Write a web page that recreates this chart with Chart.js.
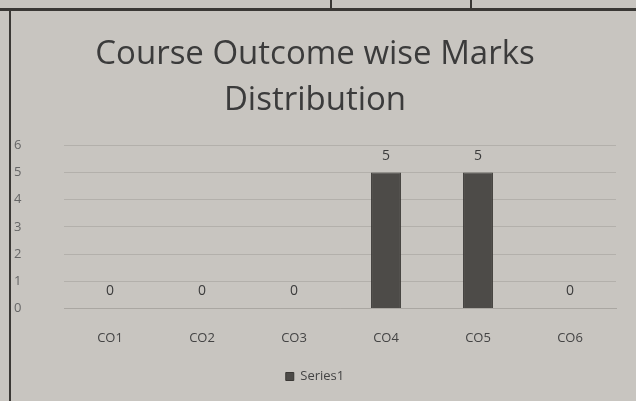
<!DOCTYPE html>
<html>
<head>
<meta charset="utf-8">
<script src="https://cdn.jsdelivr.net/npm/chart.js@4"></script>
<style>
  html, body { margin: 0; padding: 0; }
  body { width: 636px; height: 401px; background: #c8c5c0; position: relative; overflow: hidden; }
  #wrap { position: absolute; left: 0; top: 0; width: 636px; height: 401px; }
  .rule { position: absolute; background: #3a3835; }
</style>
</head>
<body>
<!-- page edges from the photographed sheet -->
<div class="rule" style="left:0;top:8px;width:636px;height:3px;"></div>
<div class="rule" style="left:9px;top:8px;width:2px;height:393px;"></div>
<div class="rule" style="left:330px;top:0;width:2px;height:10px;"></div>
<div class="rule" style="left:470px;top:0;width:2px;height:10px;"></div>
<div id="wrap"><canvas id="chart" width="636" height="401"></canvas></div>
<script>
// Chart data
const categories = ['CO1', 'CO2', 'CO3', 'CO4', 'CO5', 'CO6'];
const marks = [0, 0, 0, 5, 5, 0];
const yTicks = [0, 1, 2, 3, 4, 5, 6];

// Draws the value above each bar (like Excel data labels)
const valueLabels = {
    id: 'valueLabels',
    afterDatasetsDraw(chart) {
        const ctx = chart.ctx;
        const meta = chart.getDatasetMeta(0);
        ctx.save();
        ctx.font = '14px "Open Sans", sans-serif';
        ctx.fillStyle = '#3c3c3c';
        ctx.textAlign = 'center';
        ctx.textBaseline = 'bottom';
        meta.data.forEach((bar, i) => {
            ctx.fillText(String(marks[i]), bar.x, bar.y - 10);
        });
        ctx.restore();
    }
};

new Chart(document.getElementById('chart'), {
    type: 'bar',
    data: {
        labels: categories,
        datasets: [{
            label: 'Series1',
            data: marks,
            backgroundColor: '#4d4b48',
            borderColor: '#3a3835',
            borderWidth: 1,
            barPercentage: 0.65,
            categoryPercentage: 0.5
        }]
    },
    options: {
        responsive: false,
        animation: false,
        layout: { padding: { top: 31, left: 14, right: 20, bottom: 8 } },
        plugins: {
            title: {
                display: true,
                text: ['Course Outcome wise Marks', 'Distribution'],
                color: '#3b3b3b',
                font: { family: '"Open Sans", sans-serif', size: 33, weight: 'normal', lineHeight: 1.4 },
                padding: { top: 0, bottom: 22 }
            },
            legend: {
                position: 'bottom',
                labels: {
                    boxWidth: 8,
                    boxHeight: 8,
                    color: '#444',
                    font: { family: '"Open Sans", sans-serif', size: 13 }
                }
            },
            tooltip: { enabled: false }
        },
        scales: {
            x: {
                grid: { display: false },
                border: { display: true, color: '#aaa7a2' },
                ticks: {
                    color: '#444',
                    padding: 14,
                    font: { family: '"Open Sans", sans-serif', size: 13 }
                }
            },
            y: {
                min: 0,
                max: 6,
                afterBuildTicks(axis) {
                    axis.ticks = yTicks.map(v => ({ value: v }));
                },
                afterFit(axis) {
                    axis.width = 50;
                },
                grid: { color: '#b3b0ab', drawTicks: false },
                border: { display: false },
                ticks: {
                    color: '#666',
                    crossAlign: 'far',
                    padding: 10,
                    font: { family: '"Open Sans", sans-serif', size: 13 }
                }
            }
        }
    },
    plugins: [valueLabels]
});
</script>
</body>
</html>
